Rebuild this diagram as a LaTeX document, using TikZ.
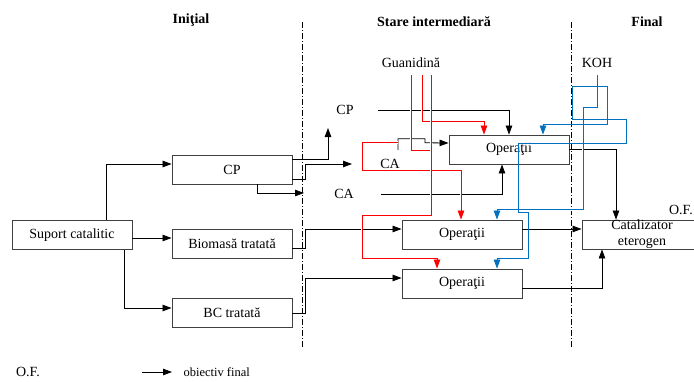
\documentclass[tikz,border=0pt]{standalone}
\usepackage{fontspec}
\setmainfont{Liberation Serif}
\usetikzlibrary{arrows.meta}
\definecolor{kohblue}{HTML}{0070C0}
\definecolor{guared}{HTML}{FF0000}
\tikzstyle{rec} = [rectangle,draw=black!75,line width=0.9pt,fill=white,text centered,minimum width=120pt,minimum height=29pt,inner sep=0pt]

\begin{document}
\begin{tikzpicture}
		[x=1pt,y=-1pt,
		font=\fontsize{14}{16}\selectfont,
		link/.style={line width=0.8pt},
		arr/.style={link,-{Triangle[length=9pt,width=6.5pt]}},
		halo/.style={preaction={draw=white,line width=2.6pt,arrows=-}},
		sep/.style={line width=0.6pt,dash pattern=on 6pt off 2pt on 1pt off 2pt}
		]
		\useasboundingbox (0,0) rectangle (694,381);

		% stage borders
		\draw[sep] (302,22) -- (302,348);
		\draw[sep] (571,22) -- (571,348);
		\node(tini) at (191,20) {\bfseries Iniţial};
		\node(tint) at (434,22) {\bfseries Stare intermediară};
		\node(tfin) at (647,22) {\bfseries Final};

		% blocks
		\node[rec](sup) at (72,235) {Suport catalitic};
		\node[rec](cp) at (232,169.5) {CP};
		\node[rec](bio) at (232,243.5) {Biomasă tratată};
		\node[rec](bc) at (232,312.5) {BC tratată};
		\node[rec](op1) at (509,149.5) {Operaţii};
		\node[rec](op2) at (462,234.5) {Operaţii};
		\node[rec](op3) at (462,283.5) {Operaţii};
		\node[rec,align=center](cat) at (642,234.5) {Catalizator\\eterogen};

		% loose labels
		\node(gua) at (411,63) {Guanidină};
		\node(koh) at (597,63) {KOH};
		\node(cpl) at (345,110) {CP};
		\node(cam) at (390,164) {CA};
		\node(cal) at (344,194) {CA};
		\node(of) at (681,210) {O.F.};
		\coordinate (cpend) at (328,128);
		\coordinate (caend) at (352,164);
		\coordinate (ca2end) at (304,193);

		% black links
		\draw[arr] ([xshift=34pt]sup.north) |- ([yshift=5.5pt]cp.west);
		\draw[arr] ([yshift=-3pt]sup.east) -- ([yshift=5.5pt]bio.west);
		\draw[arr] ([xshift=52pt]sup.south) |- ([yshift=4.5pt]bc.west);
		\draw[arr] ([yshift=10.5pt]cp.east) -| (cpend);
		\draw[arr] ([yshift=-9.5pt]cp.east) -- ++(13,0) |- (caend);
		\draw[arr] ([xshift=25pt]cp.south) |- (ca2end);
		\draw[arr] ([yshift=-4.5pt]bio.east) -- ++(13,0) |- ([yshift=5.5pt]op2.west);
		\draw[arr] ([yshift=-0.5pt]bc.east) -- ++(13,0) |- ([yshift=5.5pt]op3.west);
		\draw[arr] ([xshift=21pt]cpl.east) -| (op1.north);
		\draw[arr] ([xshift=24pt]cal.east) -| ([xshift=-7pt]op1.south);
		\draw[arr] ([shift={(8,-6)}]cam.north) -- ++(0,-11) -- ++(27,0) -- ++(0,4) -- ([yshift=6.5pt]op1.west);
		\draw[arr] (op1.east) -| ([xshift=-26pt]cat.north);
		\draw[arr] ([yshift=5.5pt]op2.east) -- ([yshift=5.5pt]cat.west);
		\draw[arr] ([yshift=-4.5pt]op3.east) -| ([xshift=-40pt]cat.south);

		% guanidina feeds
		\draw[arr,guared,halo] ([shift={(8,-13)}]cam.north) -- ++(-36,0) |- ([shift={(-1,-49)}]op2.north) -- ([xshift=-1pt]op2.north);
		\draw[link,guared,halo] ([shift={(0,4)}]gua.south) -- ++(0,75) -- ++(20,0);
		\draw[arr,guared,halo] ([shift={(11,4)}]gua.south) |- ([shift={(-25,-13)}]op1.north) -- ([xshift=-25pt]op1.north);
		\draw[arr,guared,halo] ([shift={(20,4)}]gua.south) -- ++(0,140) -- ++(-69,0) |- ([shift={(-25,-10)}]op3.north) -- ([xshift=-25pt]op3.north);

		% KOH feeds
		\draw[arr,kohblue,halo] ([shift={(0,4)}]koh.south) -- ++(0,32) -- ++(-14,0) |- ([shift={(35,-10)}]op2.north) -- ([xshift=35pt]op2.north);
		\draw[arr,kohblue] ([shift={(0,15)}]koh.south) -- ++(10,0) |- ([shift={(34,-10)}]op1.north) -- ([xshift=34pt]op1.north);
		\draw[arr,kohblue] ([shift={(0,15)}]koh.south) -- ++(-25,0) -- ++(0,33) -- ++(54,0) -- ++(0,24) -- ++(-108,0) -- ++(0,69) -- ++(10,0) |- ([shift={(35,-10)}]op3.north) -- ([xshift=35pt]op3.north);

		% legend
		\node(legof) at (28,372) {O.F.};
		\node[anchor=west,font=\fontsize{12.5}{14}\selectfont](legtxt) at (180,372) {obiectiv final};
		\draw[arr] ([xshift=-38pt]legtxt.west) -- ([xshift=-8pt]legtxt.west);
\end{tikzpicture}
\end{document}
